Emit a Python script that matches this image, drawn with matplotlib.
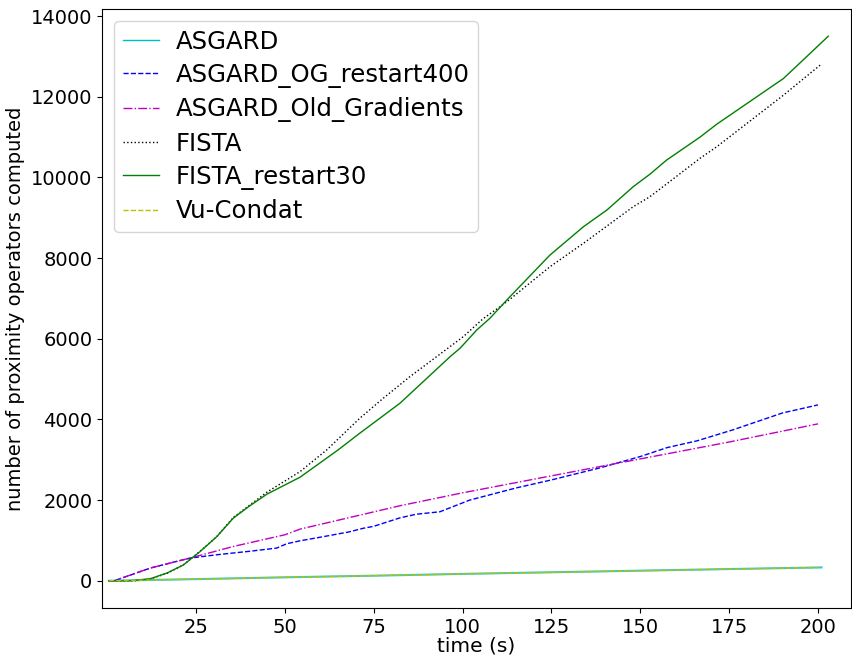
import matplotlib
matplotlib.use("Agg")
import matplotlib.pyplot as plt

# time (s) and number of proximity operators
asgard_t = [0.5, 25, 50, 75, 100, 125, 150, 175, 201]
asgard_y = [0, 40, 85, 125, 170, 210, 250, 290, 330]

vu_t = [0.5, 25, 50, 75, 100, 125, 150, 175, 200]
vu_y = [0, 40, 85, 125, 168, 208, 248, 288, 328]

og400_t = [0.5, 2, 12.1, 23.3, 30.8, 40, 47.7, 50.5, 54.3, 60, 68, 72, 75, 82.4, 87,
           93.6, 102, 115, 125, 138.7, 150, 157.5, 166, 176, 190, 200]
og400_y = [0, 0, 314, 562, 644, 730, 810, 917, 991, 1080, 1210, 1300, 1350, 1560, 1650,
           1710, 2000, 2300, 2500, 2800, 3080, 3300, 3470, 3740, 4160, 4360]

old_t = [0.5, 2, 12.1, 23.3, 35.5, 50, 54.3, 82.4, 100, 138, 175, 200]
old_y = [0, 0, 314, 562, 850, 1140, 1281, 1860, 2180, 2820, 3440, 3890]

fista_t = [0.5, 8, 12, 17, 21.4, 26, 30.8, 35.5, 45, 54.3, 61.8, 71.1, 77.7, 85.2, 92.7,
           100.2, 105.8, 110.3, 112.9, 124.6, 134, 148, 152.7, 166.8, 171.5, 190.3, 200.6]
fista_y = [0, 0, 40, 190, 390, 720, 1090, 1570, 2200, 2708, 3246, 4031, 4527, 5062, 5557,
           6053, 6500, 6781, 6950, 7788, 8367, 9274, 9522, 10474, 10761, 12042, 12785]

fr30_t = [0.5, 6.4, 12.1, 16.8, 21.4, 26.1, 30.8, 35.5, 40, 45, 54.3, 65, 71.1, 82.4, 96.5,
          99.3, 104, 107.7, 112.9, 124.6, 134, 140.6, 148, 152.7, 157.4, 166.8, 171.5, 190.3, 202.9]
fr30_y = [0, 0, 50, 190, 390, 720, 1090, 1553, 1850, 2150, 2569, 3246, 3660, 4403, 5557,
          5766, 6219, 6509, 7004, 8077, 8778, 9192, 9770, 10080, 10431, 11000, 11320, 12455, 13503]

fig, ax = plt.subplots(figsize=(8.53, 6.55), dpi=100)
fig.subplots_adjust(left=0.1196, right=0.9977, top=0.9863, bottom=0.0718)

ax.plot(asgard_t, asgard_y, color='c', linestyle='-', lw=1.5, alpha=0.8, label='ASGARD')
ax.plot(og400_t, og400_y, color='b', linestyle='--', lw=1, label='ASGARD_OG_restart400')
ax.plot(old_t, old_y, color='m', linestyle='-.', lw=1, label='ASGARD_Old_Gradients')
ax.plot(fista_t, fista_y, color='k', linestyle=':', lw=1, label='FISTA')
ax.plot(fr30_t, fr30_y, color='g', linestyle='-', lw=1, label='FISTA_restart30')
ax.plot(vu_t, vu_y, color='y', linestyle='--', lw=1, label='Vu-Condat')

ax.set_xlim(-1.45, 209.3)
ax.set_xticks([25, 50, 75, 100, 125, 150, 175, 200])
ax.tick_params(labelsize=14)
ax.set_xlabel('time (s)', fontsize=14.5, labelpad=0)
ax.set_ylabel('number of proximity operators computed', fontsize=14)
leg = ax.legend(loc='upper left', fontsize=17.6, handlelength=1.5, handletextpad=0.65,
                labelspacing=0.38, borderpad=0.35)
for h in leg.get_lines():
    h.set_linewidth(1)
    h.set_alpha(1)

plt.savefig('out.png', dpi=100)
